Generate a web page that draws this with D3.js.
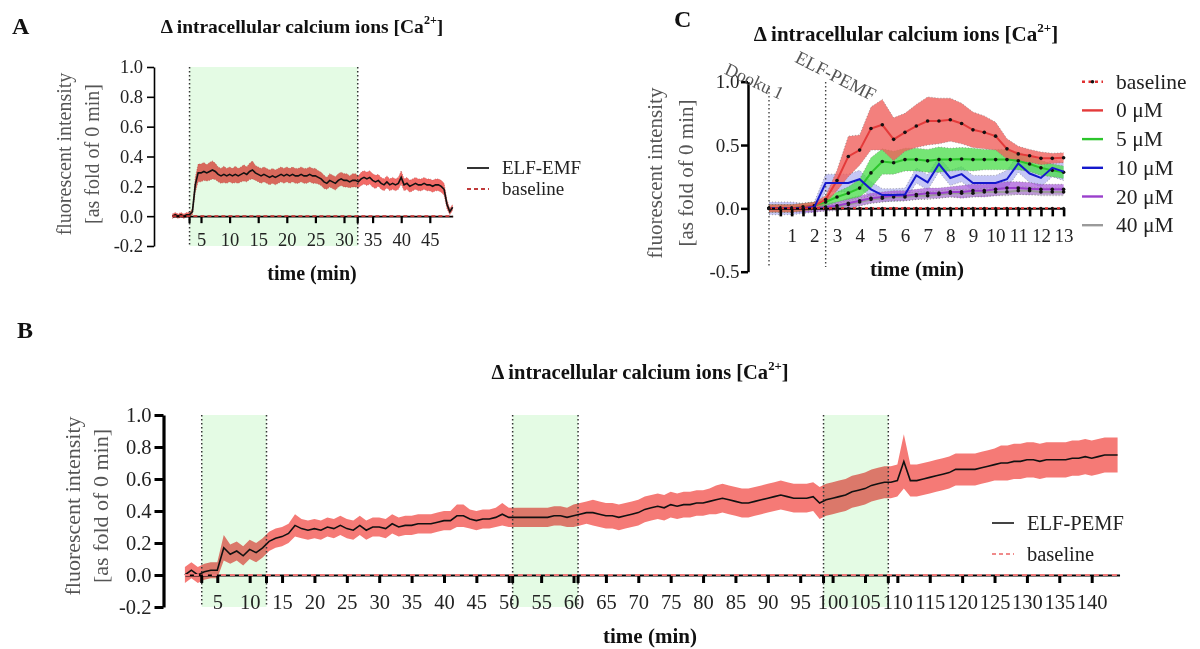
<!DOCTYPE html>
<html><head><meta charset="utf-8">
<script src="https://cdn.jsdelivr.net/npm/d3@7"></script>
<style>
html,body{margin:0;padding:0;background:#fff;}
svg{display:block;}
</style></head><body>
<svg id="fig" width="1200" height="649"></svg>
<script>
// ================= DATA =================
const titleMain = "Δ intracellular calcium ions [Ca";
const titleSup = "2+";
const yTitle1 = "fluorescent intensity";
const yTitle2 = "[as fold of 0 min]";
const xTitle = "time (min)";

// ---- Panel A (ELF-EMF), sampled every 0.5 min ----
const stepA = 0.5;
const meanA = [
 0.00,0.01,0.00,0.01,0.00,0.01,0.01,0.03,0.21,0.29,
 0.29,0.30,0.29,0.30,0.31,0.30,0.28,0.27,0.28,0.27,
 0.28,0.27,0.28,0.27,0.28,0.29,0.28,0.30,0.31,0.29,
 0.28,0.27,0.28,0.27,0.26,0.27,0.26,0.27,0.28,0.27,
 0.28,0.27,0.28,0.27,0.27,0.28,0.27,0.27,0.28,0.27,
 0.27,0.26,0.25,0.23,0.22,0.24,0.23,0.22,0.24,0.25,
 0.24,0.24,0.23,0.24,0.24,0.23,0.25,0.26,0.25,0.26,
 0.24,0.23,0.24,0.22,0.21,0.23,0.21,0.22,0.21,0.22,
 0.26,0.21,0.22,0.20,0.21,0.22,0.21,0.21,0.22,0.21,
 0.21,0.20,0.21,0.21,0.20,0.18,0.08,0.03,0.06];
const semA = [
 0.015,0.015,0.015,0.015,0.015,0.015,0.015,0.02,0.05,0.06,
 0.06,0.06,0.055,0.06,0.06,0.055,0.05,0.05,0.055,0.05,
 0.05,0.05,0.055,0.05,0.05,0.055,0.05,0.055,0.06,0.05,
 0.05,0.05,0.05,0.05,0.05,0.05,0.05,0.05,0.05,0.05,
 0.05,0.05,0.05,0.05,0.05,0.05,0.05,0.05,0.05,0.05,
 0.05,0.045,0.045,0.045,0.04,0.045,0.045,0.045,0.045,0.045,
 0.045,0.045,0.04,0.045,0.045,0.04,0.045,0.045,0.045,0.045,
 0.045,0.045,0.04,0.04,0.04,0.04,0.04,0.04,0.04,0.04,
 0.045,0.04,0.04,0.04,0.04,0.04,0.04,0.04,0.04,0.04,
 0.04,0.04,0.04,0.04,0.04,0.04,0.03,0.02,0.02];
const fieldA = [[3, 32.4]];
const xTicksA = [5,10,15,20,25,30,35,40,45];
const yTicksAB = [-0.2,0,0.2,0.4,0.6,0.8,1.0];
const legendA = ["ELF-EMF","baseline"];

// ---- Panel B (ELF-PEMF), sampled every 1 min ----
const stepB = 1;
const meanB = [
 0.00,0.03,0.00,0.02,0.03,0.03,0.17,0.13,0.15,0.12,
 0.16,0.14,0.17,0.21,0.23,0.24,0.26,0.31,0.29,0.28,
 0.29,0.28,0.30,0.29,0.31,0.29,0.28,0.31,0.28,0.30,
 0.30,0.29,0.32,0.30,0.31,0.31,0.32,0.32,0.32,0.33,
 0.34,0.34,0.37,0.37,0.35,0.34,0.35,0.35,0.36,0.38,
 0.36,0.36,0.36,0.36,0.36,0.36,0.36,0.37,0.37,0.36,
 0.37,0.38,0.39,0.39,0.38,0.37,0.37,0.36,0.37,0.38,
 0.39,0.41,0.42,0.43,0.42,0.44,0.43,0.44,0.44,0.45,
 0.45,0.46,0.47,0.48,0.47,0.46,0.45,0.45,0.46,0.47,
 0.48,0.49,0.50,0.49,0.48,0.48,0.48,0.49,0.45,0.47,
 0.48,0.49,0.50,0.52,0.53,0.54,0.56,0.57,0.58,0.58,
 0.59,0.71,0.59,0.59,0.60,0.61,0.62,0.63,0.64,0.66,
 0.66,0.66,0.66,0.67,0.68,0.69,0.70,0.70,0.71,0.71,
 0.72,0.72,0.71,0.72,0.72,0.72,0.72,0.73,0.73,0.74,
 0.73,0.74,0.75,0.75,0.75];
const semB = [
 0.05,0.05,0.05,0.05,0.05,0.05,0.08,0.06,0.06,0.06,
 0.06,0.06,0.06,0.06,0.06,0.06,0.06,0.07,0.06,0.06,
 0.06,0.06,0.06,0.06,0.06,0.06,0.06,0.06,0.06,0.06,
 0.06,0.06,0.06,0.06,0.06,0.06,0.06,0.06,0.06,0.06,
 0.06,0.06,0.07,0.07,0.06,0.06,0.06,0.06,0.06,0.07,
 0.06,0.06,0.06,0.06,0.06,0.06,0.06,0.06,0.06,0.06,
 0.07,0.07,0.07,0.08,0.08,0.08,0.08,0.08,0.08,0.08,
 0.08,0.08,0.08,0.08,0.08,0.08,0.08,0.08,0.08,0.08,
 0.08,0.08,0.09,0.09,0.09,0.09,0.09,0.09,0.09,0.09,
 0.09,0.09,0.09,0.09,0.09,0.09,0.09,0.09,0.10,0.10,
 0.10,0.10,0.10,0.10,0.10,0.10,0.10,0.10,0.10,0.10,
 0.10,0.17,0.10,0.10,0.10,0.10,0.10,0.10,0.10,0.10,
 0.10,0.10,0.10,0.10,0.10,0.10,0.11,0.11,0.11,0.11,
 0.11,0.11,0.11,0.11,0.11,0.11,0.11,0.11,0.11,0.11,
 0.11,0.11,0.11,0.11,0.11];
const fieldB = [[2.6,12.6],[50.6,60.7],[98.6,108.6]];
const xTicksB = [5,10,15,20,25,30,35,40,45,50,55,60,65,70,75,80,85,90,95,100,105,110,115,120,125,130,135,140];
const legendB = ["ELF-PEMF","baseline"];

// ---- Panel C (Dooku 1 concentrations), every 0.5 min ----
const minutesC = [0,0.5,1,1.5,2,2.5,3,3.5,4,4.5,5,5.5,6,6.5,7,7.5,8,8.5,9,9.5,10,10.5,11,11.5,12,12.5,13];
const baselineC = [0,0,0,0,0,0,0,0,0,0,0,0,0,0,0,0,0,0,0,0,0,0,0,0,0,0,0];
const mean0uM  = [0.00,0.00,0.00,0.01,0.02,0.07,0.22,0.41,0.46,0.63,0.66,0.545,0.60,0.65,0.69,0.69,0.70,0.67,0.62,0.60,0.57,0.47,0.43,0.415,0.395,0.395,0.40];
const sem0uM   = [0.03,0.03,0.03,0.03,0.03,0.03,0.08,0.16,0.12,0.17,0.20,0.17,0.15,0.17,0.19,0.18,0.17,0.16,0.14,0.13,0.11,0.08,0.06,0.05,0.05,0.04,0.04];
const mean5uM  = [0.00,0.00,0.00,0.01,0.02,0.05,0.09,0.12,0.16,0.28,0.37,0.36,0.385,0.385,0.375,0.385,0.385,0.39,0.385,0.385,0.385,0.385,0.375,0.35,0.32,0.30,0.285];
const sem5uM   = [0.03,0.03,0.03,0.03,0.03,0.03,0.04,0.05,0.07,0.12,0.10,0.09,0.09,0.09,0.09,0.10,0.09,0.09,0.09,0.08,0.08,0.08,0.07,0.06,0.06,0.05,0.05];
const mean10uM = [0.00,0.00,0.00,0.00,0.01,0.20,0.20,0.20,0.23,0.15,0.105,0.105,0.11,0.26,0.205,0.35,0.24,0.27,0.20,0.20,0.20,0.23,0.355,0.275,0.24,0.32,0.29];
const sem10uM  = [0.05,0.05,0.05,0.04,0.04,0.07,0.07,0.07,0.07,0.06,0.05,0.05,0.05,0.06,0.06,0.06,0.06,0.06,0.06,0.06,0.06,0.07,0.07,0.07,0.07,0.07,0.07];
const mean20uM = [0.00,0.00,0.00,0.00,0.00,0.01,0.02,0.04,0.06,0.08,0.09,0.10,0.10,0.11,0.12,0.12,0.13,0.13,0.14,0.14,0.15,0.16,0.16,0.155,0.15,0.15,0.15];
const sem20uM  = [0.03,0.03,0.03,0.03,0.03,0.03,0.03,0.04,0.04,0.04,0.04,0.04,0.04,0.04,0.04,0.04,0.04,0.05,0.05,0.05,0.05,0.05,0.05,0.05,0.04,0.04,0.04];
const mean40uM = [0.00,0.00,0.00,0.00,0.00,0.00,0.01,0.03,0.05,0.07,0.08,0.09,0.09,0.10,0.10,0.11,0.12,0.12,0.12,0.13,0.13,0.13,0.14,0.14,0.13,0.13,0.13];
const sem40uM  = [0.02,0.02,0.02,0.02,0.02,0.02,0.03,0.03,0.03,0.03,0.03,0.03,0.03,0.03,0.03,0.03,0.03,0.03,0.03,0.03,0.03,0.03,0.03,0.03,0.03,0.03,0.03];
const xTicksC = [0.5,1,1.5,2,2.5,3,3.5,4,4.5,5,5.5,6,6.5,7,7.5,8,8.5,9,9.5,10,10.5,11,11.5,12,12.5,13];
const yTicksC = [-0.5,0,0.5,1.0];
const eventsC = [{label:"Dooku 1", t:0}, {label:"ELF-PEMF", t:2.5}];
const legendC = ["baseline","0 μM","5 μM","10 μM","20 μM","40 μM"];

// ================= DRAWING =================
const SERIF = '"Liberation Serif","Times New Roman",serif';
const svg = d3.select("#fig").attr("font-family", SERIF);

function pts(means, sems, times) {
  return means.map((m, i) => ({t: times[i], m: m, s: sems ? sems[i] : 0}));
}
function title(x, y, fs) {
  const t = svg.append("text").attr("x", x).attr("y", y).attr("text-anchor", "middle")
    .attr("font-weight", "bold").attr("font-size", fs).attr("fill", "#111");
  t.append("tspan").text(titleMain);
  t.append("tspan").attr("dy", -fs * 0.45).attr("font-size", fs * 0.62).text(titleSup);
  t.append("tspan").attr("dy", fs * 0.45).text("]");
}
function yTitles(cx1, cx2, cy, fs) {
  [[cx1, yTitle1], [cx2, yTitle2]].forEach(([cx, s]) => {
    svg.append("text").attr("transform", `translate(${cx},${cy}) rotate(-90)`)
      .attr("text-anchor", "middle").attr("dy", "0.35em").attr("font-size", fs)
      .attr("fill", "#555").text(s);
  });
}
function xTitleText(cx, y, fs) {
  svg.append("text").attr("x", cx).attr("y", y).attr("text-anchor", "middle")
    .attr("font-weight", "bold").attr("font-size", fs).attr("fill", "#111").text(xTitle);
}
function letter(s, x, y) {
  svg.append("text").attr("x", x).attr("y", y).attr("font-weight", "bold")
    .attr("font-size", 24).attr("fill", "#111").text(s);
}
function styleAxis(g, dw, tw, fs) {
  g.attr("font-family", SERIF).attr("font-size", fs);
  g.select(".domain").attr("stroke", "#000").attr("stroke-width", dw);
  g.selectAll(".tick line").attr("stroke", "#000").attr("stroke-width", tw);
  g.selectAll(".tick text").attr("fill", "#222");
}
const fmt1 = d => d.toFixed(1);

// ---------- PANEL A ----------
(function () {
  const x = d3.scaleLinear().domain([0, 49]).range([172.4, 172.4 + 49 * 5.72]);
  const y = d3.scaleLinear().domain([-0.2, 1.0]).range([246, 67]);
  const times = meanA.map((_, i) => i * stepA);
  const data = pts(meanA, semA, times);
  const g = svg.append("g");
  fieldA.forEach(([a, b]) => {
    g.append("rect").attr("x", x(a)).attr("y", y(1)).attr("width", x(b) - x(a))
      .attr("height", y(-0.2) - y(1)).attr("fill", "#e4fbe4");
  });
  g.append("path").datum(data).attr("fill", "#f26a66").style("mix-blend-mode", "multiply")
    .attr("d", d3.area().x(d => x(d.t)).y0(d => y(d.m - d.s)).y1(d => y(d.m + d.s)));
  ["up", "dn"].forEach(k => {
    g.append("path").datum(data).attr("fill", "none").attr("stroke", "#a02828")
      .attr("stroke-width", 0.8).attr("stroke-dasharray", "1,1.5").attr("opacity", 0.6)
      .attr("d", d3.line().x(d => x(d.t)).y(d => y(k === "up" ? d.m + d.s : d.m - d.s)));
  });
  fieldA.forEach(([a, b]) => [a, b].forEach(v => {
    g.append("line").attr("x1", x(v)).attr("x2", x(v)).attr("y1", y(1)).attr("y2", y(-0.2))
      .attr("stroke", "#333").attr("stroke-width", 1.5).attr("stroke-dasharray", "1.5,2.5");
  }));
  g.append("path").datum(data).attr("fill", "none").attr("stroke", "#111").attr("stroke-width", 1.6)
    .attr("d", d3.line().x(d => x(d.t)).y(d => y(d.m)));
  const ya = g.append("g").attr("transform", "translate(154,0)")
    .call(d3.axisLeft(y).tickValues(yTicksAB).tickFormat(fmt1).tickSize(7).tickSizeOuter(0).tickPadding(4));
  styleAxis(ya, 1.6, 1.6, 18.5);
  const xa = g.append("g").attr("transform", `translate(0,${y(0)})`)
    .call(d3.axisBottom(x).tickValues(xTicksA).tickSize(7).tickSizeOuter(0).tickPadding(10));
  styleAxis(xa, 1.6, 2.2, 18.5);
  fieldA.forEach(([a, b]) => [a, b].forEach(v => {
    g.append("line").attr("x1", x(v)).attr("x2", x(v)).attr("y1", y(0)).attr("y2", y(0) + 7)
      .attr("stroke", "#000").attr("stroke-width", 2.2);
  }));
  g.append("line").attr("x1", x(0)).attr("x2", x(49)).attr("y1", y(0)).attr("y2", y(0))
    .attr("stroke", "#c03030").attr("stroke-width", 1.8).attr("stroke-dasharray", "4,3");
  // legend
  g.append("line").attr("x1", 467).attr("x2", 489).attr("y1", 168).attr("y2", 168).attr("stroke", "#333").attr("stroke-width", 2);
  g.append("line").attr("x1", 467).attr("x2", 489).attr("y1", 189).attr("y2", 189).attr("stroke", "#c03a3a").attr("stroke-width", 2).attr("stroke-dasharray", "4,3");
  legendA.forEach((s, i) => {
    g.append("text").attr("x", 502).attr("y", 168 + i * 21).attr("dy", "0.33em")
      .attr("font-size", 19).attr("fill", "#222").text(s);
  });
  title(302, 33, 19.5);
  yTitles(64, 92, 154, 20);
  xTitleText(312, 280, 20);
  letter("A", 12, 34);
})();

// ---------- PANEL B ----------
(function () {
  const x = d3.scaleLinear().domain([0, 144.3]).range([184.9, 184.9 + 144.3 * 6.477]);
  const y = d3.scaleLinear().domain([-0.2, 1.0]).range([607, 415]);
  const times = meanB.map((_, i) => i * stepB);
  const data = pts(meanB, semB, times);
  const g = svg.append("g");
  fieldB.forEach(([a, b]) => {
    g.append("rect").attr("x", x(a)).attr("y", y(1)).attr("width", x(b) - x(a))
      .attr("height", y(-0.2) - y(1)).attr("fill", "#e4fbe4");
  });
  g.append("path").datum(data).attr("fill", "#f57a76").style("mix-blend-mode", "multiply")
    .attr("d", d3.area().x(d => x(d.t)).y0(d => y(d.m - d.s)).y1(d => y(d.m + d.s)));
  fieldB.forEach(([a, b]) => [a, b].forEach(v => {
    g.append("line").attr("x1", x(v)).attr("x2", x(v)).attr("y1", y(1)).attr("y2", y(-0.2))
      .attr("stroke", "#333").attr("stroke-width", 1.5).attr("stroke-dasharray", "1.5,2.5");
  }));
  g.append("path").datum(data).attr("fill", "none").attr("stroke", "#111").attr("stroke-width", 1.6)
    .attr("d", d3.line().x(d => x(d.t)).y(d => y(d.m)));
  const ya = g.append("g").attr("transform", "translate(163.5,0)")
    .call(d3.axisLeft(y).tickValues(yTicksAB).tickFormat(fmt1).tickSize(9).tickSizeOuter(0).tickPadding(3));
  styleAxis(ya, 3.2, 3, 20.5);
  const xa = g.append("g").attr("transform", `translate(0,${y(0)})`)
    .call(d3.axisBottom(x).tickValues(xTicksB).tickSize(8).tickSizeOuter(0).tickPadding(11));
  styleAxis(xa, 2, 3, 20.5);
  fieldB.forEach(([a, b]) => [a, b].forEach(v => {
    g.append("line").attr("x1", x(v)).attr("x2", x(v)).attr("y1", y(0)).attr("y2", y(0) + 8)
      .attr("stroke", "#000").attr("stroke-width", 3);
  }));
  g.append("line").attr("x1", x(0)).attr("x2", x(144.3)).attr("y1", y(0)).attr("y2", y(0))
    .attr("stroke", "#f07878").attr("stroke-width", 1.8).attr("stroke-dasharray", "5,4");
  g.append("line").attr("x1", 992).attr("x2", 1014).attr("y1", 523).attr("y2", 523).attr("stroke", "#444").attr("stroke-width", 2);
  g.append("line").attr("x1", 992).attr("x2", 1014).attr("y1", 554).attr("y2", 554).attr("stroke", "#f08a8a").attr("stroke-width", 2).attr("stroke-dasharray", "4,3");
  legendB.forEach((s, i) => {
    g.append("text").attr("x", 1027).attr("y", 523 + i * 31).attr("dy", "0.33em")
      .attr("font-size", 20.5).attr("fill", "#222").text(s);
  });
  title(640, 379, 20.5);
  yTitles(72, 100, 506, 22);
  xTitleText(650, 643, 21);
  letter("B", 17, 338);
})();

// ---------- PANEL C ----------
(function () {
  const x = d3.scaleLinear().domain([0, 13]).range([769, 1063.6]);
  const y = d3.scaleLinear().domain([-0.5, 1.0]).range([271.7, 81.7]);
  const g = svg.append("g");
  const series = [
    {name: legendC[1], mean: mean0uM,  sem: sem0uM,  line: "#e43a3a", band: "#f0605c", op: 0.8,  dots: true},
    {name: legendC[2], mean: mean5uM,  sem: sem5uM,  line: "#2cc52c", band: "#47dc47", op: 0.75, dots: true},
    {name: legendC[3], mean: mean10uM, sem: sem10uM, line: "#1418cc", band: "#9ea0ee", op: 0.6,  dots: false},
    {name: legendC[4], mean: mean20uM, sem: sem20uM, line: "#9a3fcc", band: "#a552d8", op: 0.7,  dots: true},
    {name: legendC[5], mean: mean40uM, sem: sem40uM, line: "#9a9a9a", band: "#b9a6cc", op: 0.5,  dots: true}
  ];
  series.forEach(s => s.data = pts(s.mean, s.sem, minutesC));
  const area = d3.area().x(d => x(d.t)).y0(d => y(d.m - d.s)).y1(d => y(d.m + d.s));
  const bandOrder = [2, 3, 4, 1, 0];
  bandOrder.forEach(i => {
    const s = series[i];
    g.append("path").datum(s.data).attr("fill", s.band).attr("opacity", s.op).attr("d", area);
    ["up", "dn"].forEach(k => {
      g.append("path").datum(s.data).attr("fill", "none").attr("stroke", "#777")
        .attr("stroke-width", 0.9).attr("stroke-dasharray", "1,2").attr("opacity", 0.7)
        .attr("d", d3.line().x(d => x(d.t)).y(d => y(k === "up" ? d.m + d.s : d.m - d.s)));
    });
  });
  eventsC.forEach((e, i) => {
    g.append("line").attr("x1", x(e.t)).attr("x2", x(e.t)).attr("y1", i === 0 ? 88 : 82).attr("y2", 267)
      .attr("stroke", "#444").attr("stroke-width", 1.4).attr("stroke-dasharray", "1.5,2.5");
  });
  const lineOrder = [4, 3, 1, 0, 2];
  lineOrder.forEach(i => {
    const s = series[i];
    g.append("path").datum(s.data).attr("fill", "none").attr("stroke", s.line).attr("stroke-width", 2)
      .attr("d", d3.line().x(d => x(d.t)).y(d => y(d.m)));
    if (s.dots) {
      g.selectAll(null).data(s.data).enter().append("circle")
        .attr("cx", d => x(d.t)).attr("cy", d => y(d.m)).attr("r", 1.8).attr("fill", "#111");
    }
  });
  const ya = g.append("g").attr("transform", "translate(748,0)")
    .call(d3.axisLeft(y).tickValues(yTicksC).tickFormat(fmt1).tickSize(7).tickSizeOuter(0).tickPadding(1.5));
  styleAxis(ya, 2.5, 2.5, 19);
  const xa = g.append("g").attr("transform", `translate(0,${y(0)})`)
    .call(d3.axisBottom(x).tickValues(xTicksC).tickFormat(d => Number.isInteger(d) ? d : "")
      .tickSize(8).tickSizeOuter(0).tickPadding(12));
  styleAxis(xa, 2, 2.6, 19);
  const base = pts(baselineC, null, minutesC);
  g.append("path").datum(base).attr("fill", "none").attr("stroke", "#e03030").attr("stroke-width", 2)
    .attr("stroke-dasharray", "3,3").attr("d", d3.line().x(d => x(d.t)).y(d => y(d.m)));
  g.selectAll(null).data(base).enter().append("circle")
    .attr("cx", d => x(d.t)).attr("cy", d => y(d.m)).attr("r", 1.5).attr("fill", "#111");
  // event labels
  const evPos = [[723.6, 73.5, 25, 18], [794, 61.6, 27, 18.5]];
  eventsC.forEach((e, i) => {
    const [px, py, ang, fs] = evPos[i];
    g.append("text").attr("transform", `translate(${px},${py}) rotate(${ang})`)
      .attr("font-size", fs).attr("fill", "#555").text(e.label);
  });
  // legend
  const lx1 = 1082, lx2 = 1103, ly0 = 81.7, ldy = 28.7;
  g.append("line").attr("x1", lx1).attr("x2", lx2).attr("y1", ly0).attr("y2", ly0)
    .attr("stroke", "#e03030").attr("stroke-width", 2.4).attr("stroke-dasharray", "3,3.5");
  g.append("circle").attr("cx", (lx1 + lx2) / 2).attr("cy", ly0).attr("r", 1.8).attr("fill", "#111");
  series.forEach((s, i) => {
    g.append("line").attr("x1", lx1).attr("x2", lx2).attr("y1", ly0 + (i + 1) * ldy).attr("y2", ly0 + (i + 1) * ldy)
      .attr("stroke", s.line).attr("stroke-width", 2.4);
  });
  legendC.forEach((s, i) => {
    g.append("text").attr("x", 1116).attr("y", ly0 + i * ldy).attr("dy", "0.33em")
      .attr("font-size", 21.5).attr("fill", "#222").text(s);
  });
  title(906, 41, 21);
  yTitles(655, 686, 173, 21);
  xTitleText(917, 276, 21);
  letter("C", 674, 27);
})();
</script>
</body></html>
